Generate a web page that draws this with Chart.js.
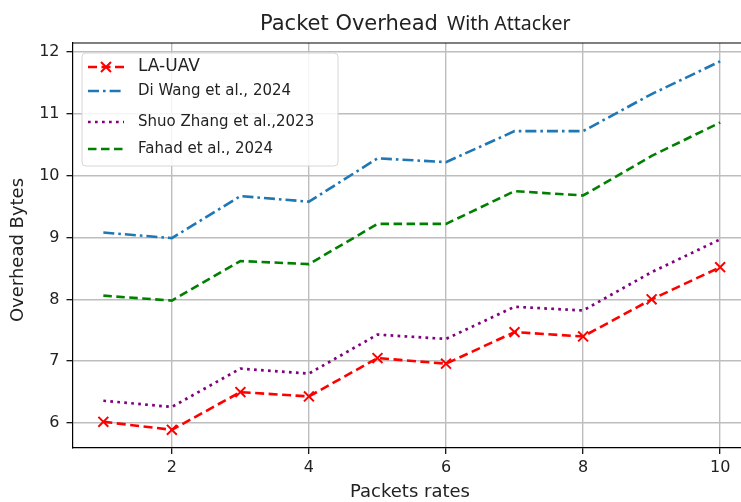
<!DOCTYPE html>
<html>
<head>
<meta charset="utf-8">
<script src="https://cdn.jsdelivr.net/npm/chart.js@4"></script>
<style>
  html, body { margin: 0; padding: 0; background: #fff; overflow: hidden; }
  canvas { display: block; }
</style>
</head>
<body>
<canvas id="overhead" width="760" height="502"></canvas>
<script>
// packet rate on x, overhead bytes on y
const packetRates = [1, 2, 3, 4, 5, 6, 7, 8, 9, 10];
const laUav     = [6.02, 5.89, 6.50, 6.43, 7.05, 6.96, 7.47, 7.40, 8.00, 8.52];
const diWang    = [9.08, 8.99, 9.67, 9.58, 10.28, 10.22, 10.72, 10.72, 11.32, 11.85];
const shuoZhang = [6.36, 6.26, 6.88, 6.80, 7.43, 7.36, 7.88, 7.82, 8.44, 8.97];
const fahad     = [8.06, 7.98, 8.62, 8.57, 9.22, 9.22, 9.75, 9.68, 10.32, 10.86];
const xTicks = [2, 4, 6, 8, 10];
const yTicks = [6, 7, 8, 9, 10, 11, 12];

const toPoints = (vals) => vals.map((v, i) => ({ x: packetRates[i], y: v }));

const datasets = [
    {
        label: 'LA-UAV',
        data: toPoints(laUav),
        borderColor: '#ff0000',
        backgroundColor: '#ff0000',
        borderWidth: 2.6,
        borderDash: [9, 4.5],
        pointStyle: 'crossRot',
        pointRadius: 7,
        pointBorderWidth: 2,
        legendFont: '17px "DejaVu Sans"'
    },
    {
        label: 'Di Wang et al., 2024',
        data: toPoints(diWang),
        borderColor: '#1f77b4',
        backgroundColor: '#1f77b4',
        borderWidth: 2.6,
        borderDash: [11, 4, 2.6, 4],
        pointRadius: 0,
        legendFont: '15px "DejaVu Sans"'
    },
    {
        label: 'Shuo Zhang et al.,2023',
        data: toPoints(shuoZhang),
        borderColor: '#800080',
        backgroundColor: '#800080',
        borderWidth: 2.7,
        borderDash: [2.7, 4.3],
        pointRadius: 0,
        legendFont: '15px "DejaVu Sans"'
    },
    {
        label: 'Fahad et al., 2024',
        data: toPoints(fahad),
        borderColor: '#008000',
        backgroundColor: '#008000',
        borderWidth: 2.6,
        borderDash: [8.5, 4.5],
        pointRadius: 0,
        legendFont: '15px "DejaVu Sans"'
    }
];

// legend rows: y centre of each entry
const legendRows = [67, 91, 122, 149];

const decorations = {
    id: 'decorations',
    afterDraw(chart) {
        const ctx = chart.ctx;
        const area = chart.chartArea;
        ctx.save();

        // top spine
        ctx.strokeStyle = '#000';
        ctx.lineWidth = 1.2;
        ctx.beginPath();
        ctx.moveTo(area.left, area.top);
        ctx.lineTo(area.right, area.top);
        ctx.stroke();

        // title in two fonts
        ctx.fillStyle = '#222';
        ctx.textBaseline = 'alphabetic';
        ctx.textAlign = 'left';
        ctx.font = '21px "DejaVu Sans"';
        ctx.fillText('Packet Overhead', 260, 30);
        ctx.font = '19.5px "Noto Sans"';
        ctx.fillText('With Attacker', 447, 30);

        // axis titles
        ctx.font = '18px "DejaVu Sans"';
        ctx.textAlign = 'center';
        ctx.textBaseline = 'middle';
        ctx.fillText('Packets rates', 410, 492);
        ctx.translate(18, 250);
        ctx.rotate(-Math.PI / 2);
        ctx.fillText('Overhead Bytes', 0, 0);
        ctx.setTransform(1, 0, 0, 1, 0, 0);

        // legend box
        const bx = 82, by = 53, bw = 256, bh = 113, r = 4;
        ctx.beginPath();
        ctx.roundRect(bx, by, bw, bh, r);
        ctx.fillStyle = 'rgba(255,255,255,0.85)';
        ctx.fill();
        ctx.strokeStyle = '#d6d6d6';
        ctx.lineWidth = 1;
        ctx.stroke();

        chart.data.datasets.forEach((ds, i) => {
            const y = legendRows[i];
            ctx.strokeStyle = ds.borderColor;
            ctx.lineWidth = ds.borderWidth;
            ctx.setLineDash(ds.borderDash);
            ctx.beginPath();
            ctx.moveTo(88, y);
            ctx.lineTo(124, y);
            ctx.stroke();
            ctx.setLineDash([]);
            if (ds.pointRadius > 0) {
                const m = 5;
                ctx.lineWidth = ds.pointBorderWidth;
                ctx.beginPath();
                ctx.moveTo(106 - m, y - m); ctx.lineTo(106 + m, y + m);
                ctx.moveTo(106 - m, y + m); ctx.lineTo(106 + m, y - m);
                ctx.stroke();
            }
            ctx.fillStyle = '#222';
            ctx.font = ds.legendFont;
            ctx.textAlign = 'left';
            ctx.textBaseline = 'middle';
            ctx.fillText(ds.label, 138, y);
        });
        ctx.restore();
    }
};

new Chart(document.getElementById('overhead'), {
    type: 'line',
    data: { datasets: datasets },
    options: {
        responsive: false,
        animation: false,
        events: [],
        layout: { padding: { top: 43, right: 9, left: 0, bottom: 0 } },
        elements: { line: { tension: 0, fill: false } },
        plugins: {
            legend: { display: false },
            title: { display: false },
            tooltip: { enabled: false }
        },
        scales: {
            x: {
                type: 'linear',
                min: 0.55,
                max: 10.45,
                afterBuildTicks: (axis) => { axis.ticks = xTicks.map(v => ({ value: v })); },
                afterFit: (axis) => { axis.height = 54; },
                grid: { color: '#bdbdbd', lineWidth: 1.4, tickColor: '#000', tickLength: 6, tickWidth: 1.2 },
                border: { color: '#000', width: 1.2 },
                ticks: { color: '#222', font: { family: 'DejaVu Sans', size: 16 }, padding: 4, maxRotation: 0 }
            },
            y: {
                type: 'linear',
                min: 5.596,
                max: 12.146,
                afterBuildTicks: (axis) => { axis.ticks = yTicks.map(v => ({ value: v })); },
                afterFit: (axis) => { axis.width = 72.5; },
                grid: { color: '#bdbdbd', lineWidth: 1.4, tickColor: '#000', tickLength: 6, tickWidth: 1.2 },
                border: { color: '#000', width: 1.2 },
                ticks: { color: '#222', font: { family: 'DejaVu Sans', size: 16 }, padding: 7 }
            }
        }
    },
    plugins: [decorations]
});
</script>
</body>
</html>
